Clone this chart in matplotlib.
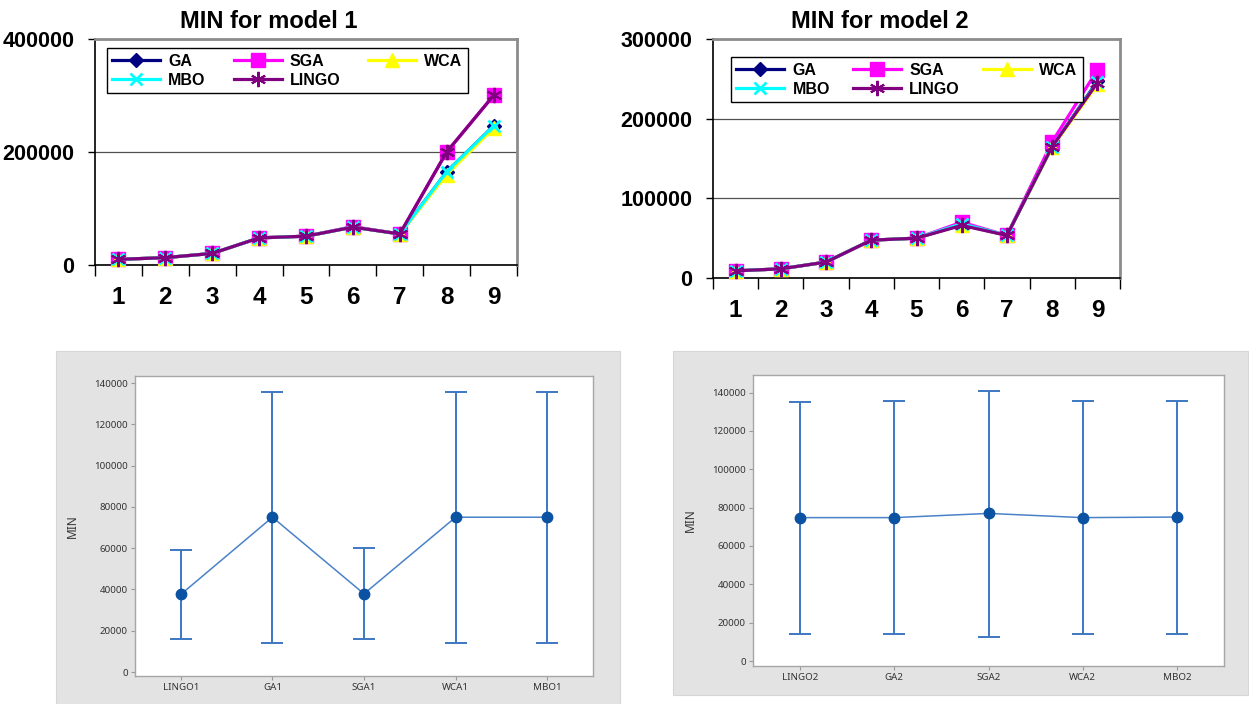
# ----------------------------------------------------------------------------------------------------------------------
#  IMPORT
# ----------------------------------------------------------------------------------------------------------------------
import matplotlib
matplotlib.use('Agg')
import matplotlib.pyplot as plt
import matplotlib.patches as patches
import numpy as np

# ----------------------------------------------------------------------------------------------------------------------
#  DATA
# ----------------------------------------------------------------------------------------------------------------------
cases = [1, 2, 3, 4, 5, 6, 7, 8, 9]

# minimum objective per test case, model 1
ga_1    = [10000, 13000, 20500, 48000, 51000, 67000, 55000, 165000, 246000]
sga_1   = [10000, 13000, 20500, 48000, 51000, 68000, 55000, 200000, 300000]
wca_1   = [10000, 13000, 20500, 48000, 51000, 67000, 55000, 160000, 242000]
mbo_1   = [10000, 13000, 20500, 48000, 51000, 67000, 55000, 165000, 246000]
lingo_1 = [10000, 13000, 20500, 48000, 51000, 67000, 55000, 200000, 300000]

# minimum objective per test case, model 2
ga_2    = [9000, 11500, 20000, 47500, 50000, 67000, 53500, 165000, 247000]
sga_2   = [9000, 11500, 20000, 47500, 50000, 70000, 53500, 171000, 261000]
wca_2   = [9000, 11500, 20000, 47500, 50000, 67000, 53500, 164000, 243000]
mbo_2   = [9000, 11500, 20000, 47500, 50000, 68000, 53500, 165000, 246000]
lingo_2 = [9000, 11500, 20000, 47500, 50000, 66000, 53500, 165000, 245000]

# interval plots (mean with lower / upper limits)
methods_1 = ['LINGO1', 'GA1', 'SGA1', 'WCA1', 'MBO1']
mean_1    = [37600, 75000, 37900, 75000, 75000]
low_1     = [16000, 14300, 16000, 13900, 13900]
high_1    = [59100, 135600, 60100, 135600, 135600]

methods_2 = ['LINGO2', 'GA2', 'SGA2', 'WCA2', 'MBO2']
mean_2    = [74800, 74800, 77000, 74800, 75100]
low_2     = [14100, 14100, 12500, 14100, 14100]
high_2    = [135100, 135500, 141000, 135500, 135500]

# ----------------------------------------------------------------------------------------------------------------------
#  PLOTS
# ----------------------------------------------------------------------------------------------------------------------
W, H = 1249, 704


def px_axes(fig, x0, y0, x1, y1):
    """axes from pixel box (left, top, right, bottom)"""
    return fig.add_axes([x0 / W, (H - y1) / H, (x1 - x0) / W, (y1 - y0) / H])


def plot_min_lines(ax, series, ymax, ystep, legend_box):
    styles = [('GA',    '#000080', 'D',       7,  1.0),
              ('SGA',   '#FF00FF', 's',       10, 1.0),
              ('WCA',   '#FFFF00', '^',       10, 1.0),
              ('MBO',   '#00FFFF', 'x',       9,  2.0),
              ('LINGO', '#800080', (6, 2, 0), 11, 1.5)]
    lines = []
    for (name, color, marker, ms, mew), values in zip(styles, series):
        line, = ax.plot(cases, values, color=color, marker=marker, markersize=ms, markeredgewidth=mew,
                        markeredgecolor=color, linewidth=2.3, label=name, clip_on=False, zorder=3)
        lines.append(line)

    ax.set_xlim(0.5, 9.5)
    ax.set_ylim(0, ymax)
    ax.set_yticks(np.arange(0, ymax + 1, ystep))
    ax.set_yticklabels([str(int(v)) for v in np.arange(0, ymax + 1, ystep)], fontsize=15.5, fontweight='bold')

    # category axis: tick marks between cases, labels in the middle
    ax.set_xticks(np.arange(0.5, 10, 1))
    ax.set_xticklabels([])
    ax.set_xticks(cases, minor=True)
    ax.set_xticklabels([str(c) for c in cases], minor=True, fontsize=17.5, fontweight='bold')
    ax.tick_params(axis='x', which='major', length=8, width=1, direction='out')
    ax.tick_params(axis='x', which='minor', length=0, pad=15)
    ax.tick_params(axis='y', length=5, width=1, pad=10)

    ax.yaxis.grid(True, color='#505050', linewidth=0.9)
    ax.set_axisbelow(True)
    for side in ['left', 'bottom']:
        ax.spines[side].set_color('black')
        ax.spines[side].set_linewidth(1.2)
    for side in ['top', 'right']:
        ax.spines[side].set_color('#8c8c8c')
        ax.spines[side].set_linewidth(2.0)

    # legend is filled column by column, so order handles to read GA SGA WCA / MBO LINGO by row
    order = [0, 3, 1, 4, 2]
    leg = ax.legend([lines[i] for i in order], [styles[i][0] for i in order],
                    ncol=3, loc='upper left', bbox_to_anchor=legend_box, mode='expand',
                    prop={'size': 11.5, 'weight': 'bold'}, handlelength=3.0, handletextpad=0.5,
                    borderaxespad=0, fancybox=False, framealpha=1, edgecolor='black',
                    borderpad=0.35, labelspacing=0.25, columnspacing=1.5)
    leg.get_frame().set_linewidth(1.0)


def plot_interval(ax, methods, mean, low, high, ylim):
    x = np.arange(len(methods))
    mean = np.array(mean)
    yerr = [mean - np.array(low), np.array(high) - mean]
    ax.plot(x, mean, color='#4a82c8', linewidth=1.1, zorder=2)
    ax.errorbar(x, mean, yerr=yerr, fmt='none', ecolor='#3d78c2', elinewidth=1.4,
                capsize=8, capthick=1.4, zorder=3)
    ax.plot(x, mean, 'o', color='#0b52a3', markersize=7.5, zorder=4)

    ax.set_xlim(-0.5, len(methods) - 0.5)
    ax.set_ylim(*ylim)
    ax.set_yticks(np.arange(0, 140001, 20000))
    ax.set_yticklabels([str(v) for v in range(0, 140001, 20000)], fontsize=7, color='#333333')
    ax.set_xticks(x)
    ax.set_xticklabels(methods, fontsize=7, color='#333333')
    ax.tick_params(length=3, width=0.8, color='#999999', pad=2)
    ax.set_ylabel('MIN', fontsize=8.5, color='#333333', labelpad=11)
    for side in ax.spines:
        ax.spines[side].set_color('#a6a6a6')
        ax.spines[side].set_linewidth(1.0)


plt.rcParams['font.family'] = ['Liberation Sans', 'DejaVu Sans']

fig = plt.figure(figsize=(W / 100, H / 100), dpi=100)
fig.patch.set_facecolor('white')

# gray panels behind the interval plots
for x0, y0, x1, y1 in [(56, 351, 620, 704), (673, 351, 1248, 695)]:
    fig.add_artist(patches.Rectangle((x0 / W, (H - y1) / H), (x1 - x0) / W, (y1 - y0) / H,
                                     transform=fig.transFigure, facecolor='#e3e3e3',
                                     edgecolor='#d6d6d6', linewidth=0.8, zorder=0))

axis_1 = px_axes(fig, 95, 39, 517, 265)
plot_min_lines(axis_1, [ga_1, sga_1, wca_1, mbo_1, lingo_1], 400000, 200000, (0.028, 0.960, 0.856, 0.0))
fig.text(269 / W, 1 - 22 / H, 'MIN for model 1', ha='center', va='center', fontsize=17, fontweight='bold')

axis_2 = px_axes(fig, 713, 39, 1120, 278)
plot_min_lines(axis_2, [ga_2, sga_2, wca_2, mbo_2, lingo_2], 300000, 100000, (0.044, 0.925, 0.865, 0.0))
fig.text(880 / W, 1 - 22 / H, 'MIN for model 2', ha='center', va='center', fontsize=17, fontweight='bold')

plt.rcParams['font.family'] = ['Noto Sans', 'DejaVu Sans']

axis_3 = px_axes(fig, 135, 376, 593, 676)
plot_interval(axis_3, methods_1, mean_1, low_1, high_1, (-1900, 143400))

axis_4 = px_axes(fig, 753, 375, 1224, 666)
plot_interval(axis_4, methods_2, mean_2, low_2, high_2, (-2600, 149200))

fig.savefig('out.png', dpi=100)
